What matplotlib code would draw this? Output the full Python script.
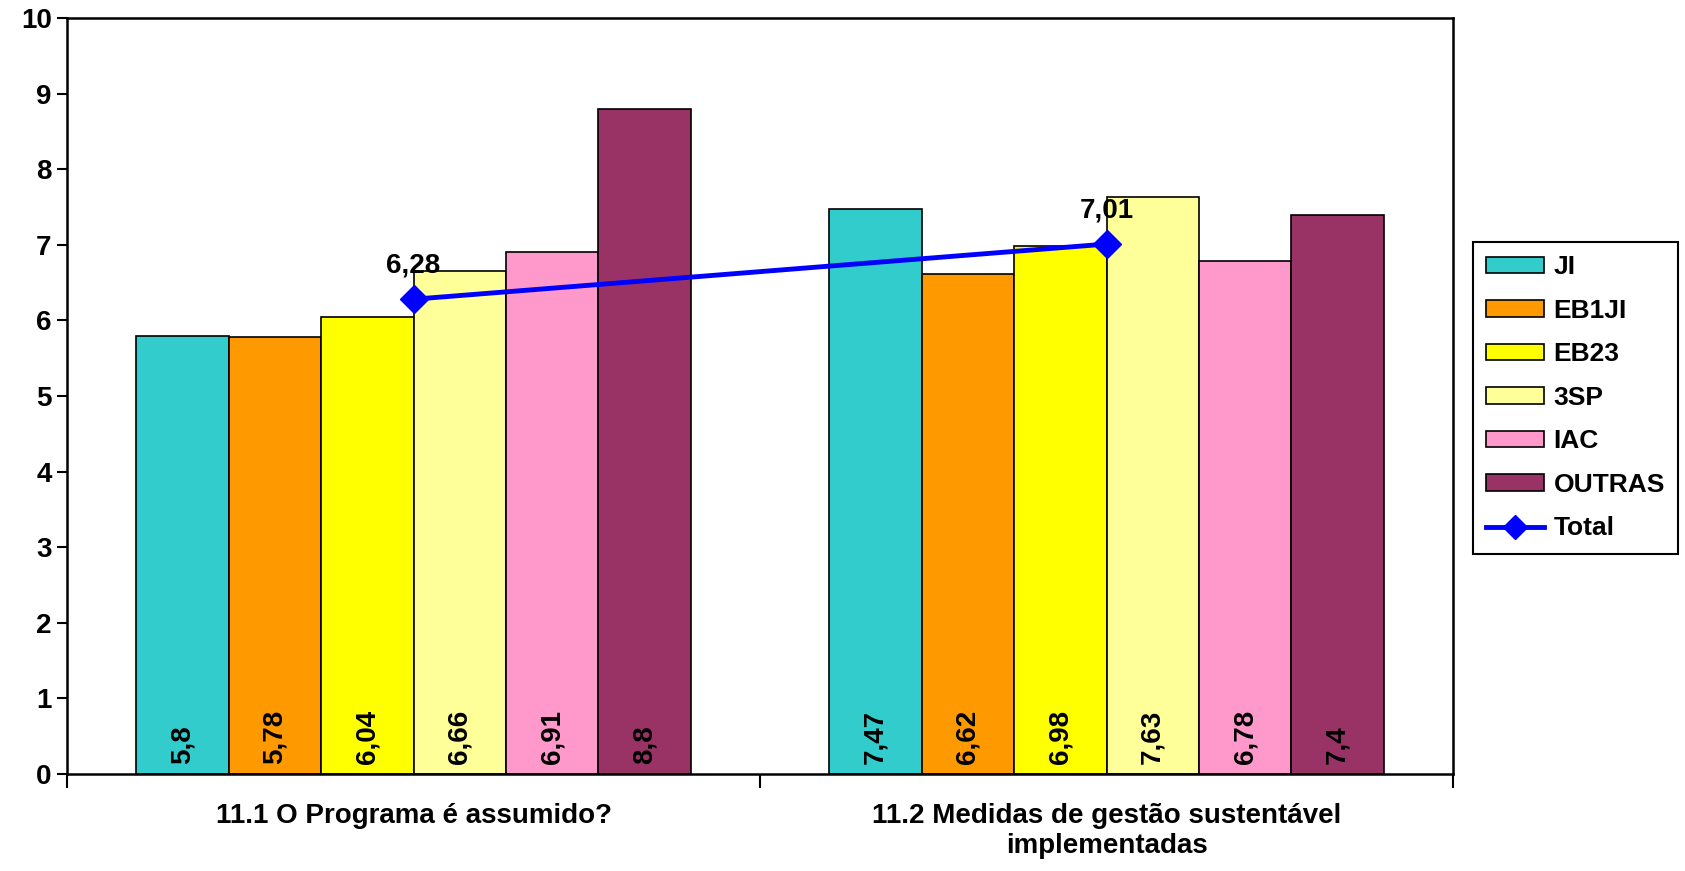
import matplotlib
matplotlib.use("Agg")
import matplotlib.pyplot as plt
from matplotlib.lines import Line2D
from matplotlib.patches import Patch
import numpy as np

plt.rcParams['font.family'] = ['Liberation Sans', 'DejaVu Sans']
plt.rcParams['font.weight'] = 'bold'

categories = ["11.1 O Programa é assumido?",
              "11.2 Medidas de gestão sustentável\nimplementadas"]
series = ["JI", "EB1JI", "EB23", "3SP", "IAC", "OUTRAS"]
values = [
    [5.8, 7.47],
    [5.78, 6.62],
    [6.04, 6.98],
    [6.66, 7.63],
    [6.91, 6.78],
    [8.8, 7.4],
]
total = [6.28, 7.01]
colors = ["#33CCCC", "#FF9900", "#FFFF00", "#FFFF99", "#FF99CC", "#993366"]

def fmt(v):
    return ("%g" % v).replace(".", ",")

W, H = 1685, 871
fig = plt.figure(figsize=(W / 100, H / 100), dpi=100)
ax = fig.add_axes([67 / W, (H - 774) / H, (1453 - 67) / W, (774 - 18) / H])

x = np.arange(len(categories))
w = 1 / 7.5
for i, name in enumerate(series):
    pos = x + (i - 2.5) * w
    ax.bar(pos, values[i], width=w, color=colors[i], edgecolor="black",
           linewidth=1.2, zorder=2)
    for p, v in zip(pos, values[i]):
        ax.text(p, 0.13, fmt(v), rotation=90, ha="center", va="bottom",
                fontsize=20, fontweight="bold", zorder=4)

ax.plot(x, total, color="#0000FF", linewidth=3.5, marker="D",
        markersize=14, zorder=5)
for xi, t in zip(x, total):
    ax.annotate(fmt(t), (xi, t), xytext=(0, 15), textcoords="offset points",
                ha="center", va="bottom", fontsize=20, fontweight="bold")

ax.set_xlim(-0.5, 1.5)
ax.set_ylim(0, 10)
ax.set_yticks(range(0, 11))
ax.tick_params(axis="y", direction="out", length=7, width=1.5,
               labelsize=20, pad=4)
ax.set_xticks([-0.5, 0.5, 1.5])
ax.set_xticklabels([])
ax.tick_params(axis="x", which="major", direction="out", length=10, width=1.5)
ax.set_xticks(x, minor=True)
ax.set_xticklabels(categories, minor=True, fontsize=20, fontweight="bold")
ax.tick_params(axis="x", which="minor", length=0, pad=21)
for s in ax.spines.values():
    s.set_linewidth(1.8)

handles = [Patch(facecolor=c, edgecolor="black", linewidth=1.2, label=n)
           for c, n in zip(colors, series)]
handles.append(Line2D([], [], color="#0000FF", linewidth=3.5, marker="D",
                      markersize=12, label="Total"))
leg = fig.legend(handles=handles, loc="upper left",
                 bbox_to_anchor=(1473 / W, (H - 242) / H),
                 bbox_transform=fig.transFigure, borderaxespad=0,
                 prop={"weight": "bold", "size": 19},
                 fancybox=False, edgecolor="black", framealpha=1,
                 handlelength=2.2, handleheight=0.6, labelspacing=0.74,
                 borderpad=0.5, handletextpad=0.35)
leg.get_frame().set_linewidth(1.5)

fig.savefig("out.png", dpi=100)
